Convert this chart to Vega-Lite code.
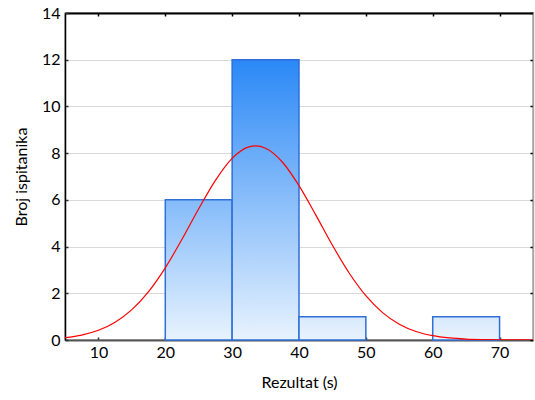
{
  "$schema": "https://vega.github.io/schema/vega-lite/v6.json",
  "autosize": "none",
  "width": 468,
  "height": 327,
  "padding": {"left": 65, "top": 13, "right": 2, "bottom": 60},
  "background": "white",
  "config": {
    "font": "Lato",
    "view": {"stroke": "#a6a6a6", "strokeWidth": 1.5},
    "axis": {
      "labelFont": "Lato", "titleFont": "Lato",
      "labelFontSize": 16, "titleFontSize": 16,
      "labelColor": "#000000", "titleColor": "#000000",
      "titleFontWeight": "normal",
      "tickColor": "#333333", "tickSize": -3, "tickWidth": 1.5
    }
  },
  "datasets": {
    "bins": [
      {"bin_start": 20, "bin_end": 30, "count": 6},
      {"bin_start": 30, "bin_end": 40, "count": 12},
      {"bin_start": 40, "bin_end": 50, "count": 1},
      {"bin_start": 60, "bin_end": 70, "count": 1}
    ],
    "curve": [
      {"x": 5, "y": 0.101}, {"x": 7.5, "y": 0.212}, {"x": 10, "y": 0.415},
      {"x": 12.5, "y": 0.76}, {"x": 15, "y": 1.298}, {"x": 17.5, "y": 2.073},
      {"x": 20, "y": 3.091}, {"x": 22.5, "y": 4.311}, {"x": 25, "y": 5.617},
      {"x": 27.5, "y": 6.837}, {"x": 30, "y": 7.778}, {"x": 32.5, "y": 8.267},
      {"x": 33.5, "y": 8.312}, {"x": 35, "y": 8.211}, {"x": 37.5, "y": 7.621},
      {"x": 40, "y": 6.609}, {"x": 42.5, "y": 5.356}, {"x": 45, "y": 4.056},
      {"x": 47.5, "y": 2.87}, {"x": 50, "y": 1.898}, {"x": 52.5, "y": 1.173},
      {"x": 55, "y": 0.677}, {"x": 57.5, "y": 0.365}, {"x": 60, "y": 0.184},
      {"x": 62.5, "y": 0.087}, {"x": 65, "y": 0.038}, {"x": 67.5, "y": 0.016},
      {"x": 70, "y": 0.006}, {"x": 72.5, "y": 0.002}, {"x": 75, "y": 0.001}
    ]
  },
  "layer": [
    {
      "data": {"name": "bins"},
      "mark": {"type": "rect", "stroke": "#2f6fd6", "strokeWidth": 1.5},
      "encoding": {
        "x": {
          "field": "bin_start", "type": "quantitative",
          "scale": {"domain": [5, 75], "nice": false, "zero": false},
          "axis": {
            "title": "Rezultat (s)", "values": [10, 20, 30, 40, 50, 60, 70],
            "grid": false, "domainColor": "#555555", "domainWidth": 2,
            "labelPadding": 7, "titlePadding": 14
          }
        },
        "x2": {"field": "bin_end"},
        "y": {
          "field": "count", "type": "quantitative",
          "scale": {"domain": [0, 14], "nice": false},
          "axis": {
            "title": "Broj ispitanika", "values": [0, 2, 4, 6, 8, 10, 12, 14],
            "grid": true, "gridColor": "#d9d9d9", "gridWidth": 1.2,
            "domainColor": "#000000", "domainWidth": 1.5,
            "labelPadding": 8, "titlePadding": 12
          }
        },
        "y2": {"datum": 0},
        "fill": {
          "condition": [
            {"test": "datum.count == 12", "value": {"gradient": "linear", "x1": 0, "y1": 0, "x2": 0, "y2": 1, "stops": [{"offset": 0, "color": "#2a88f6"}, {"offset": 1, "color": "#e8f3fe"}]}},
            {"test": "datum.count == 6", "value": {"gradient": "linear", "x1": 0, "y1": 0, "x2": 0, "y2": 1, "stops": [{"offset": 0, "color": "#84bbfa"}, {"offset": 1, "color": "#e8f3fe"}]}}
          ],
          "value": {"gradient": "linear", "x1": 0, "y1": 0, "x2": 0, "y2": 1, "stops": [{"offset": 0, "color": "#d8eafd"}, {"offset": 1, "color": "#e8f3fe"}]}
        }
      }
    },
    {
      "data": {"name": "curve"},
      "mark": {"type": "line", "color": "#ff0000", "strokeWidth": 1.2, "interpolate": "monotone", "clip": true},
      "encoding": {
        "x": {
          "field": "x", "type": "quantitative",
          "axis": {
            "orient": "top", "title": null, "labels": false, "values": [10, 20, 30, 40, 50, 60, 70],
            "grid": false, "domainColor": "#000000", "domainWidth": 2, "tickColor": "#000000"
          }
        },
        "y": {
          "field": "y", "type": "quantitative",
          "axis": {
            "orient": "right", "title": null, "labels": false, "values": [0, 2, 4, 6, 8, 10, 12, 14],
            "grid": false, "domainColor": "#a6a6a6", "domainWidth": 1.5, "tickColor": "#000000"
          }
        }
      }
    }
  ],
  "resolve": {"axis": {"x": "independent", "y": "independent"}}
}
